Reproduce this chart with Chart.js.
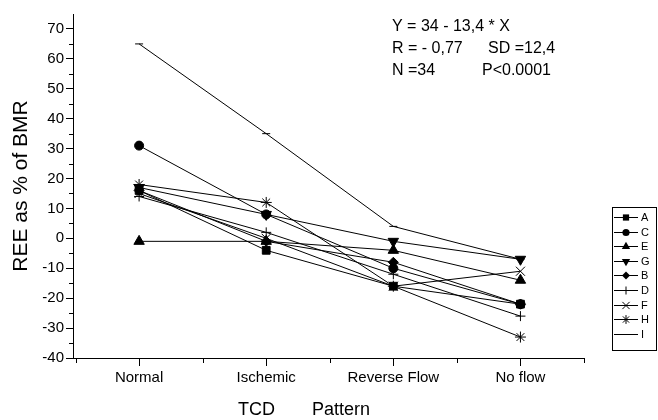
<!DOCTYPE html>
<html><head><meta charset="utf-8">
<script src="https://cdn.jsdelivr.net/npm/chart.js@4.4.0/dist/chart.umd.min.js"></script>
<style>html,body{margin:0;padding:0;background:#fff}#wrap{width:658px;height:420px}</style>
</head><body><div id="wrap"><canvas id="c" width="658" height="420"></canvas></div>
<script>
const categories = ['Normal', 'Ischemic', 'Reverse Flow', 'No flow'];
const seriesNames = ['A', 'C', 'E', 'G', 'B', 'D', 'F', 'H', 'I'];
const A = [16, -4, -16, -22];
const C = [31, 8, -10, -22];
const E = [-1, -1, -4, -14];
const G = [17, 8, -1, -7];
const B = [16, -1, -8, -22];
const D = [14, 2, -12, -26];
const F = [15, 0, -16, -11];
const H = [18, 12, -16, -33];
const I = [65, 35, 4, -7];
const yMin = -40, yMax = 75, yStep = 10;
const annotationLines = ['Y = 34 - 13,4 * X', 'R = - 0,77', 'SD =12,4', 'N =34', 'P<0.0001'];

const FONT = '"Liberation Sans", Arial, sans-serif';
const seriesValues = [A, C, E, G, B, D, F, H, I];
const styles = [
  {s: 'rect', r: 5.5, rot: 0},
  {s: 'circle', r: 4.5, rot: 0},
  {s: 'triangle', r: 6, rot: 0},
  {s: 'triangle', r: 6, rot: 180},
  {s: 'rectRot', r: 5, rot: 0},
  {s: 'cross', r: 5, rot: 0},
  {s: 'crossRot', r: 6.4, rot: 0},
  {s: 'star', r: 5.5, rot: 0},
  {s: 'line', r: 4, rot: 0}
];

const datasets = seriesNames.map((name, i) => ({
  label: name,
  data: seriesValues[i].map((v, j) => ({x: j, y: v})),
  borderColor: '#000',
  borderWidth: 1,
  backgroundColor: '#000',
  pointStyle: styles[i].s,
  pointRadius: styles[i].r,
  pointRotation: styles[i].rot,
  pointBackgroundColor: '#000',
  pointBorderColor: '#000',
  pointBorderWidth: 1,
  tension: 0,
  fill: false
}));

function drawMarker(ctx, style, x, y, r, rot) {
  ctx.save();
  ctx.translate(x, y);
  ctx.rotate(rot * Math.PI / 180);
  ctx.fillStyle = '#000'; ctx.strokeStyle = '#000'; ctx.lineWidth = 1;
  ctx.beginPath();
  const d = r * Math.SQRT1_2;
  switch (style) {
    case 'rect': ctx.rect(-d, -d, 2 * d, 2 * d); ctx.fill(); break;
    case 'circle': ctx.arc(0, 0, r, 0, 2 * Math.PI); ctx.fill(); break;
    case 'triangle':
      ctx.moveTo(0, -r); ctx.lineTo(0.866 * r, 0.5 * r); ctx.lineTo(-0.866 * r, 0.5 * r); ctx.closePath(); ctx.fill(); break;
    case 'rectRot':
      ctx.moveTo(0, -r); ctx.lineTo(r, 0); ctx.lineTo(0, r); ctx.lineTo(-r, 0); ctx.closePath(); ctx.fill(); break;
    case 'cross':
      ctx.moveTo(0, -r); ctx.lineTo(0, r); ctx.moveTo(-r, 0); ctx.lineTo(r, 0); ctx.stroke(); break;
    case 'crossRot':
      ctx.moveTo(-d, -d); ctx.lineTo(d, d); ctx.moveTo(d, -d); ctx.lineTo(-d, d); ctx.stroke(); break;
    case 'star':
      ctx.moveTo(0, -r); ctx.lineTo(0, r); ctx.moveTo(-r, 0); ctx.lineTo(r, 0);
      ctx.moveTo(-d, -d); ctx.lineTo(d, d); ctx.moveTo(d, -d); ctx.lineTo(-d, d); ctx.stroke(); break;
    case 'line':
      ctx.moveTo(-r, 0); ctx.lineTo(r, 0); ctx.stroke(); break;
  }
  ctx.restore();
}

const decor = {
  id: 'decor',
  afterDraw(chart) {
    const ctx = chart.ctx;
    const xs = chart.scales.x, ys = chart.scales.y;
    ctx.save();
    ctx.strokeStyle = '#000'; ctx.lineWidth = 1;
    ctx.beginPath();
    for (let v = yMin + yStep / 2; v < yMax; v += yStep) {
      const py = Math.round(ys.getPixelForValue(v)) + 0.5;
      ctx.moveTo(xs.left - 4, py); ctx.lineTo(xs.left, py);
    }
    for (let k = -0.5; k <= 3.5; k += 1) {
      if (k < xs.min) continue;
      const px = Math.round(xs.getPixelForValue(k)) + 0.5;
      ctx.moveTo(px, ys.bottom); ctx.lineTo(px, ys.bottom + 5);
    }
    ctx.stroke();
    ctx.fillStyle = '#000';
    ctx.font = '18px ' + FONT;
    ctx.textBaseline = 'middle';
    ctx.textAlign = 'left';
    ctx.fillText('TCD', 238, 410);
    ctx.fillText('Pattern', 312, 410);
    ctx.font = '16px ' + FONT;
    ctx.fillText(annotationLines[0], 392, 27);
    ctx.fillText(annotationLines[1], 392, 49);
    ctx.fillText(annotationLines[2], 488, 49);
    ctx.fillText(annotationLines[3], 392, 71);
    ctx.fillText(annotationLines[4], 482, 71);
    ctx.strokeRect(612.5, 207.5, 44, 143);
    ctx.font = '11px ' + FONT;
    chart.data.datasets.forEach((ds, i) => {
      const y = Math.round(217 + i * 14.6) + 0.5;
      ctx.beginPath(); ctx.moveTo(614, y); ctx.lineTo(638, y); ctx.stroke();
      drawMarker(ctx, ds.pointStyle, 626, y, ds.pointRadius * 0.8, ds.pointRotation || 0);
      ctx.fillStyle = '#000';
      ctx.fillText(ds.label, 641, y);
    });
    ctx.restore();
  }
};

new Chart(document.getElementById('c'), {
  type: 'line',
  data: {datasets},
  options: {
    responsive: false,
    devicePixelRatio: 1,
    animation: false,
    layout: {padding: {top: 14, right: 74, left: 0, bottom: 0}},
    plugins: {legend: {display: false}, tooltip: {enabled: false}},
    scales: {
      x: {
        type: 'linear',
        min: -0.52, max: 3.5,
        afterFit: s => { s.height = 62; },
        border: {display: true, color: '#000', width: 1},
        grid: {display: true, drawOnChartArea: false, drawTicks: true, tickLength: 8, color: '#000', tickColor: '#000'},
        ticks: {
          stepSize: 1, includeBounds: false, autoSkip: false, maxRotation: 0, padding: 3,
          color: '#000', font: {size: 15, family: FONT},
          callback: v => Number.isInteger(v) ? categories[v] : ''
        }
      },
      y: {
        min: yMin, max: yMax,
        afterFit: s => { s.width = 73; },
        border: {display: true, color: '#000', width: 1},
        grid: {display: true, drawOnChartArea: false, drawTicks: true, tickLength: 7, color: '#000', tickColor: '#000'},
        ticks: {stepSize: yStep, includeBounds: false, padding: 2, color: '#000', font: {size: 15, family: FONT}},
        title: {display: true, text: 'REE as % of BMR', color: '#000', font: {size: 21, family: FONT}, padding: {top: 9, bottom: 0}}
      }
    }
  },
  plugins: [decor]
});
</script></body></html>
